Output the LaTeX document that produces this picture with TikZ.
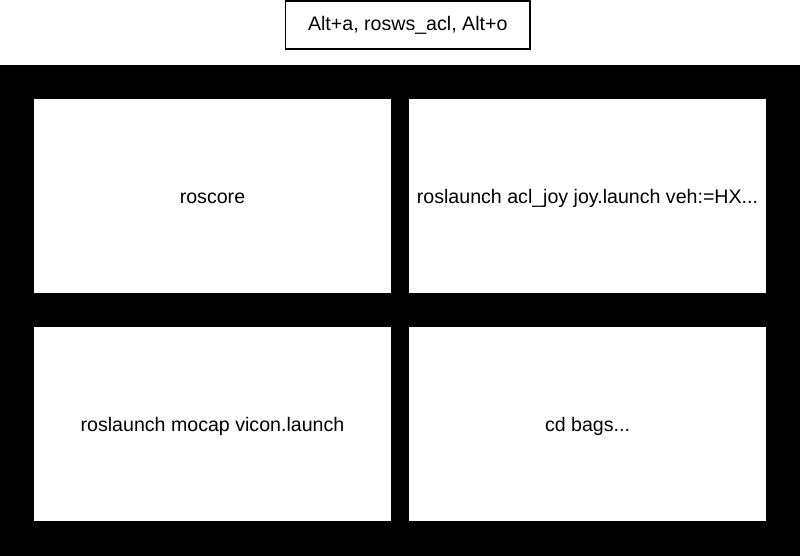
\documentclass[tikz,border=0pt]{standalone}
\usepackage{fontspec}
\setmainfont{Liberation Sans}
\usepackage{tikz}

\begin{document}
\begin{tikzpicture}[x=75pt, y=75pt,
    pane/.style={fill=white, inner sep=0pt, minimum width=267.75pt, minimum height=145.5pt, text height=12pt, text depth=1pt, font=\fontsize{14.7}{17}\selectfont},
    keybox/.style={draw, line width=0.9pt, fill=white, inner sep=0pt, minimum width=183.4pt, minimum height=36pt, font=\fontsize{14.7}{17}\selectfont}]
    \useasboundingbox (0,0) rectangle (8,5.56);
    % Shortcut
    \node[keybox] (keys) at (4.0775,5.31) {Alt+a, rosws\_acl, Alt+o};
    % Terminal window
    \fill[black] (0,0) rectangle (8,4.907);
    % Top panes
    \node[pane] (core) at (2.125,3.60) {roscore};
    \node[pane] (joy) at (5.875,3.60) {roslaunch acl\_joy joy.launch veh:=HX...};
    % Bottom panes
    \node[pane] (vicon) at (2.125,1.315) {roslaunch mocap vicon.launch};
    \node[pane] (bags) at (5.875,1.315) {cd bags...};
\end{tikzpicture}
\end{document}
